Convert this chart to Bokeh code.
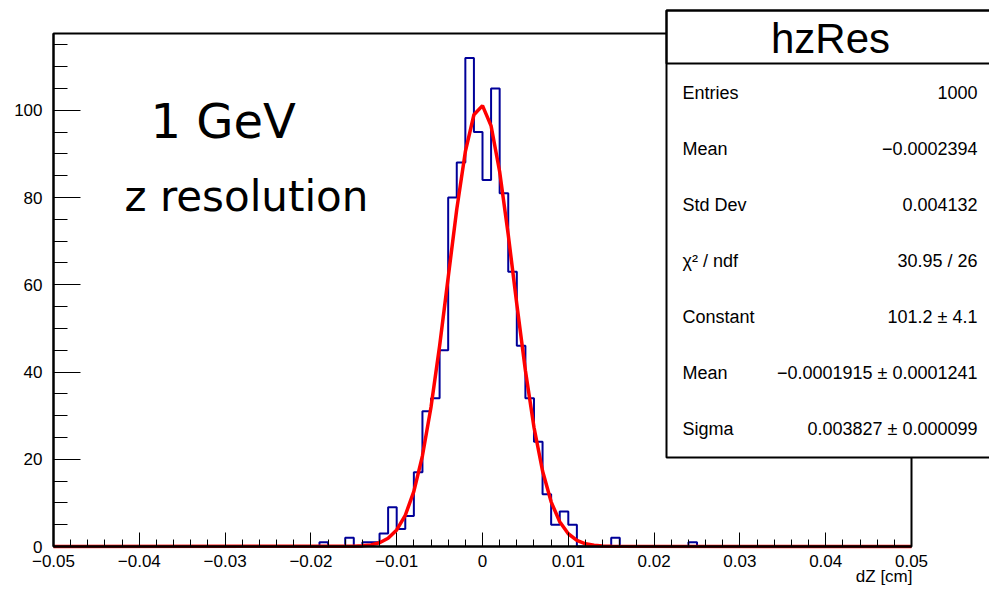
import numpy as np
from bokeh.plotting import figure
from bokeh.models import Range1d, FixedTicker, Label, BoxAnnotation, LinearAxis
from bokeh.embed import file_html
from bokeh.resources import INLINE

# ---------------- data ----------------
x_min, x_max, n_bins = -0.05, 0.05, 100
y_max = 117.6

# non-empty bins (lower edge of each 0.001-wide bin) and their counts
filled_bin_lo = [-0.019, -0.016, -0.014, -0.013, -0.012, -0.011, -0.010, -0.009,
                 -0.008, -0.007, -0.006, -0.005, -0.004, -0.003, -0.002, -0.001,
                 0.000, 0.001, 0.002, 0.003, 0.004, 0.005, 0.006, 0.007, 0.008,
                 0.009, 0.010, 0.015, 0.024]
filled_counts = [1, 2, 1, 1, 3, 9, 4, 7,
                 17, 31, 34, 45, 80, 88, 112, 95,
                 84, 105, 81, 63, 46, 34, 24, 12, 5,
                 8, 5, 2, 1]

# gaussian fit curve as drawn (points every 0.001 in the core, zero at the ends)
fit_x = [-0.05, -0.015, -0.014, -0.013, -0.012, -0.011, -0.010, -0.009, -0.008,
         -0.007, -0.006, -0.005, -0.004, -0.003, -0.002, -0.001, 0.0, 0.001,
         0.002, 0.003, 0.004, 0.005, 0.006, 0.007, 0.008, 0.009, 0.010, 0.011,
         0.012, 0.013, 0.014, 0.015, 0.05]
fit_y = [0.0, 0.06, 0.15, 0.37, 0.87, 1.88, 3.79, 7.16, 12.62,
         20.79, 31.99, 45.96, 61.68, 77.31, 90.51, 98.97, 101.07, 96.41,
         85.90, 71.48, 55.55, 40.33, 27.34, 17.31, 10.24, 5.66, 2.92, 1.41,
         0.63, 0.27, 0.10, 0.04, 0.0]

x_ticks = [-0.05, -0.04, -0.03, -0.02, -0.01, 0.0, 0.01, 0.02, 0.03, 0.04, 0.05]
x_tick_labels = ["\u22120.05", "\u22120.04", "\u22120.03", "\u22120.02", "\u22120.01",
                 "0", "0.01", "0.02", "0.03", "0.04", "0.05"]
x_minor = [round(-0.05 + 0.002 * i, 3) for i in range(51)]
y_ticks = [0, 20, 40, 60, 80, 100]
y_minor = [5 * i for i in range(24)]

stats_title = "hzRes"
stats_names = ["Entries", "Mean", "Std Dev", "\u03c7\u00b2 / ndf", "Constant", "Mean", "Sigma"]
stats_values = ["1000", "\u22120.0002394", "0.004132", "30.95 / 26", "101.2 \u00b1 4.1",
                "\u22120.0001915 \u00b1 0.0001241", "0.003827 \u00b1 0.000099"]

# ---------------- histogram outline ----------------
edges = np.linspace(x_min, x_max, n_bins + 1)
counts = np.zeros(n_bins)
for lo, c in zip(filled_bin_lo, filled_counts):
    counts[int(round((lo - x_min) / 0.001))] = c
hx = [edges[0]]
hy = [0.0]
for i in range(n_bins):
    hx += [edges[i], edges[i + 1]]
    hy += [counts[i], counts[i]]
hx.append(edges[-1])
hy.append(0.0)

# ---------------- layout (pixels) ----------------
W, H = 989, 589
FL, FR, FT, FB = 53, 911, 33, 546          # frame edges on the canvas
sx = (FR - FL) / (x_max - x_min)
sy = (FB - FT) / (y_max - 0.0)
x_start = x_min - FL / sx
x_end = x_min + (W - FL) / sx
y_start = 0.0 - (H - FB) / sy
y_end = y_max + FT / sy

FONT = "Liberation Sans"
p = figure(output_backend="svg", toolbar_location=None,
           frame_width=W, frame_height=H, min_border=0,
           x_axis_type=None, y_axis_type=None,
           x_range=Range1d(x_start, x_end), y_range=Range1d(y_start, y_end),
           background_fill_color="white", border_fill_color="white")
p.grid.visible = False
p.outline_line_color = None

# frame
p.add_layout(BoxAnnotation(left=x_min, right=x_max, bottom=0, top=y_max,
                           fill_alpha=0.0, line_color="black", line_width=2, line_alpha=1.0))

p.line(hx, hy, line_color="#000099", line_width=2)
p.line(fit_x, fit_y, line_color="#ff0000", line_width=3.5)

xa = LinearAxis(fixed_location=0, bounds=(x_min, x_max),
                ticker=FixedTicker(ticks=x_ticks, minor_ticks=x_minor))
xa.major_label_overrides = {t: l for t, l in zip(x_ticks, x_tick_labels)}
xa.major_tick_in = 14
xa.major_tick_out = 0
xa.minor_tick_in = 7
xa.minor_tick_out = 0
xa.major_tick_line_color = "black"
xa.minor_tick_line_color = "black"
xa.axis_line_width = 2
xa.major_label_text_font = FONT
xa.major_label_text_font_size = "17px"
xa.major_label_text_color = "black"
xa.major_label_standoff = 8
p.add_layout(xa, "below")

ya = LinearAxis(fixed_location=x_min, bounds=(0, y_max),
                ticker=FixedTicker(ticks=y_ticks, minor_ticks=y_minor))
ya.major_tick_in = 27
ya.major_tick_out = 0
ya.minor_tick_in = 14
ya.minor_tick_out = 0
ya.major_tick_line_color = "black"
ya.minor_tick_line_color = "black"
ya.axis_line_width = 2
ya.major_label_text_font = FONT
ya.major_label_text_font_size = "17px"
ya.major_label_text_color = "black"
ya.major_label_standoff = 11
p.add_layout(ya, "left")

# axis title
p.add_layout(Label(x=912, y=576, x_units="canvas", y_units="canvas", text="dZ [cm]",
                   text_align="right", text_baseline="middle",
                   text_font=FONT, text_font_size="17px", text_color="black"))

# big annotations
p.add_layout(Label(x=150, y=120, x_units="canvas", y_units="canvas", text="1 GeV",
                   text_align="left", text_baseline="middle",
                   text_font="DejaVu Sans", text_font_size="48px", text_color="black"))
p.add_layout(Label(x=124, y=196, x_units="canvas", y_units="canvas", text="z resolution",
                   text_align="left", text_baseline="middle",
                   text_font="DejaVu Sans", text_font_size="42px", text_color="black"))

# stats box
p.add_layout(BoxAnnotation(left=666, right=1000, top=10, bottom=457,
                           left_units="canvas", right_units="canvas",
                           top_units="canvas", bottom_units="canvas",
                           fill_color="white", fill_alpha=1.0,
                           line_color="black", line_width=2, line_alpha=1.0))
p.add_layout(BoxAnnotation(left=666, right=1000, top=10, bottom=63,
                           left_units="canvas", right_units="canvas",
                           top_units="canvas", bottom_units="canvas",
                           fill_alpha=0.0, line_color="black", line_width=2, line_alpha=1.0))
p.add_layout(Label(x=830, y=38, x_units="canvas", y_units="canvas", text=stats_title,
                   text_align="center", text_baseline="middle",
                   text_font=FONT, text_font_size="42px", text_color="black"))
row_y0, row_dy = 92, 56
for i, (nm, val) in enumerate(zip(stats_names, stats_values)):
    yy = row_y0 + i * row_dy
    p.add_layout(Label(x=682, y=yy, x_units="canvas", y_units="canvas", text=nm,
                       text_align="left", text_baseline="middle",
                       text_font=FONT, text_font_size="18px", text_color="black"))
    p.add_layout(Label(x=977, y=yy, x_units="canvas", y_units="canvas", text=val,
                       text_align="right", text_baseline="middle",
                       text_font=FONT, text_font_size="18px", text_color="black"))

open("out.html", "w").write(file_html(p, INLINE))
